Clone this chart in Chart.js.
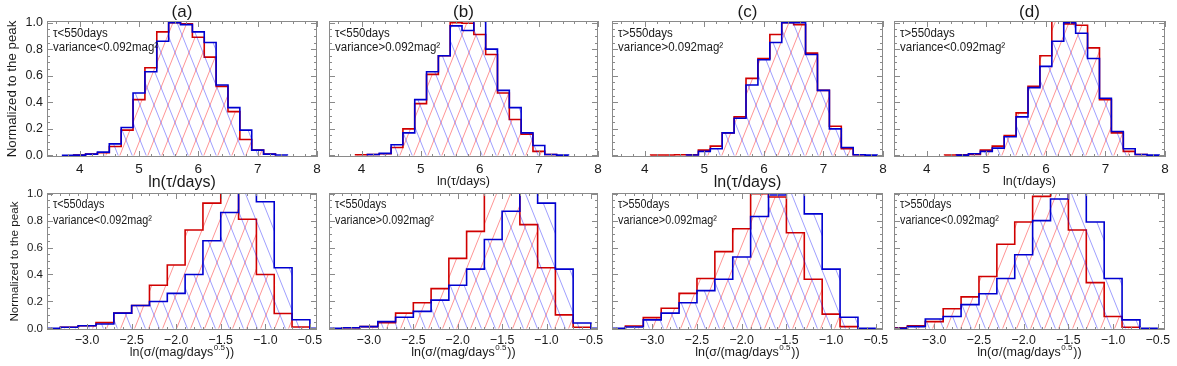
<!DOCTYPE html>
<html>
<head>
<meta charset="utf-8">
<title>Normalized histograms of tau and sigma</title>
<script src="https://cdn.jsdelivr.net/npm/chart.js"></script>
<style>
  body { margin: 0; background: #fff; }
  #wrap { position: relative; width: 1177px; height: 366px; }
  #wrap canvas { position: absolute; left: 0; top: 0; }
</style>
</head>
<body>
<div id="wrap"></div>
<script>
// bin centres (bin width 0.2)
const tauCenters = [3.8,4.0,4.2,4.4,4.6,4.8,5.0,5.2,5.4,5.6,5.8,6.0,6.2,6.4,6.6,6.8,7.0,7.2,7.4,7.6,7.8];
const sigmaCenters = [-3.4,-3.2,-3.0,-2.8,-2.6,-2.4,-2.2,-2.0,-1.8,-1.6,-1.4,-1.2,-1.0,-0.8,-0.6,-0.4];

// top row: ln(tau/days)
const aTauRed  = [null,0.003,0.01,0.02,0.067,0.19,0.42,0.66,0.93,1.0,0.99,0.89,0.74,0.52,0.33,0.12,0.04,0.01,null,null,null];
const aTauBlue = [0.0,0.002,0.01,0.025,0.087,0.21,0.47,0.63,0.86,1.0,0.985,0.93,0.85,0.53,0.36,0.19,0.04,0.01,0.003,null,null];
const bTauRed  = [null,0.005,0.007,0.012,0.06,0.2,0.39,0.61,0.75,1.0,0.995,0.91,0.76,0.47,0.27,0.16,0.03,0.007,null,null,null];
const bTauBlue = [null,null,0.007,0.015,0.08,0.17,0.42,0.63,0.75,0.975,0.94,1.06,0.8,0.49,0.36,0.17,0.075,0.007,0.002,null,null];
const cTauRed  = [null,null,0.003,0.003,0.005,0.005,0.04,0.07,0.17,0.29,0.58,0.73,0.91,1.0,0.985,0.77,0.49,0.22,0.05,0.005,null];
const cTauBlue = [null,null,null,null,null,0.003,0.03,0.05,0.17,0.28,0.53,0.72,0.85,1.0,1.0,0.76,0.49,0.2,0.06,0.005,0.002];
const dTauRed  = [null,null,null,0.003,0.005,0.008,0.04,0.07,0.15,0.32,0.52,0.75,1.06,0.99,0.98,0.81,0.42,0.17,0.03,0.007,null];
const dTauBlue = [null,null,null,null,0.002,0.012,0.03,0.055,0.14,0.29,0.51,0.67,0.86,1.0,0.92,0.73,0.43,0.18,0.05,0.007,0.002];

// bottom row: ln(sigma/(mag/days^0.5))
const aSigRed  = [null,0.008,0.02,0.043,0.113,0.17,0.32,0.47,0.73,0.93,1.02,0.81,0.4,0.11,0.01,null];
const aSigBlue = [0,0.008,0.02,0.033,0.113,0.17,0.2,0.26,0.4,0.65,0.86,1.02,0.94,0.45,0.064,0];
const bSigRed  = [null,0.005,0.013,0.043,0.113,0.19,0.295,0.52,0.72,1.01,1.02,0.77,0.45,0.1,0.008,null];
const bSigBlue = [0,0.005,0.013,0.05,0.083,0.126,0.21,0.32,0.44,0.66,0.87,1.02,0.93,0.44,0.04,0];
const cSigRed  = [null,0.018,0.08,0.15,0.26,0.37,0.57,0.74,1.0,0.975,0.71,0.365,0.106,0.013,null,null];
const cSigBlue = [0,0.01,0.063,0.113,0.19,0.28,0.365,0.53,0.83,0.99,1.02,0.85,0.44,0.083,0,null];
const dSigRed  = [0.005,0.02,0.05,0.146,0.234,0.385,0.625,0.79,0.98,1.02,0.73,0.34,0.088,0.008,null,null];
const dSigBlue = [0,0.013,0.07,0.088,0.176,0.257,0.37,0.547,0.8,0.96,1.02,0.79,0.37,0.063,0,null];

// labels
const panelTitles = ['(a)','(b)','(c)','(d)'];
const tauLines = ['\u03c4<550days','\u03c4<550days','\u03c4>550days','\u03c4>550days'];
const varLines = ['variance<0.092mag\u00b2','variance>0.092mag\u00b2','variance>0.092mag\u00b2','variance<0.092mag\u00b2'];
const tauTicks = [4,5,6,7,8];
const sigmaTicks = [-3.0,-2.5,-2.0,-1.5,-1.0,-0.5];
const yTicks = [0,0.2,0.4,0.6,0.8,1.0];

const W = 1177, H = 366;
const FONT = "'Liberation Sans', Arial, sans-serif";
const INK = '#1a1a1a';
const FRAME = '#8a8a8a';
const panelLeft = [47, 329, 612, 894];
const panelRight = [317, 598, 883, 1165];

function histPoints(centers, vals, w) {
  let first = -1, last = -1;
  vals.forEach((v, i) => { if (v !== null) { if (first < 0) first = i; last = i; } });
  const pts = [{x: centers[first] - w/2, y: 0}];
  for (let i = first; i <= last; i++) pts.push({x: centers[i] - w/2, y: vals[i]});
  pts.push({x: centers[last] + w/2, y: vals[last]});
  pts.push({x: centers[last] + w/2, y: 0});
  return pts;
}

function hatch(ctx, color, dir) {
  const tw = 14, th = 35;
  const c = document.createElement('canvas');
  c.width = tw; c.height = th;
  const g = c.getContext('2d');
  g.strokeStyle = color; g.lineWidth = 1;
  for (let k = -1; k <= 1; k++) {
    g.beginPath();
    if (dir > 0) { g.moveTo(k*tw, th); g.lineTo((k+1)*tw, 0); }
    else { g.moveTo(k*tw, 0); g.lineTo((k+1)*tw, th); }
    g.stroke();
  }
  return ctx.createPattern(c, 'repeat');
}

function steps(min, max, step) {
  const out = [];
  for (let i = Math.ceil(min/step - 1e-6); i*step <= max + 1e-6; i++) out.push(+(i*step).toFixed(3));
  return out;
}
function isMult(v, s) { return Math.abs(v/s - Math.round(v/s)) < 1e-6; }

function txt(ctx, s, x, y, size, align, k) {
  ctx.save();
  ctx.font = size + 'px ' + FONT;
  ctx.fillStyle = INK;
  ctx.textBaseline = 'middle';
  ctx.textAlign = align || 'left';
  ctx.translate(x, y);
  ctx.scale(k || 1, 1);
  ctx.fillText(s, 0, 0);
  ctx.restore();
}

function sigmaTitle(ctx, cx, y) {
  const a = 'ln(\u03c3/(mag/days', b = '0.5', c = '))';
  ctx.save();
  ctx.fillStyle = INK;
  ctx.textBaseline = 'middle';
  ctx.textAlign = 'left';
  ctx.font = '12.5px ' + FONT;
  const wa = ctx.measureText(a).width, wc = ctx.measureText(c).width;
  ctx.font = '8px ' + FONT;
  const wb = ctx.measureText(b).width;
  let x = cx - (wa + wb + wc + 1.5) / 2;
  ctx.font = '12.5px ' + FONT; ctx.fillText(a, x, y); x += wa + 0.5;
  ctx.font = '8px ' + FONT; ctx.fillText(b, x, y - 5); x += wb + 1;
  ctx.font = '12.5px ' + FONT; ctx.fillText(c, x, y);
  ctx.restore();
}

function framePlugin(col, row) {
  return {
    id: 'frame' + col + row,
    afterDraw(chart) {
      const ctx = chart.ctx, a = chart.chartArea, xs = chart.scales.x, ys = chart.scales.y;
      ctx.save();
      ctx.strokeStyle = FRAME; ctx.lineWidth = 1;
      ctx.strokeRect(a.left + 0.5, a.top + 0.5, a.right - a.left - 1, a.bottom - a.top - 1);
      const xMajor = row === 0 ? 1 : 0.5, xMinor = row === 0 ? 0.2 : 0.1;
      ctx.beginPath();
      steps(xs.min, xs.max, xMinor).forEach(v => {
        const len = isMult(v, xMajor) ? 6 : 3;
        const px = Math.round(xs.getPixelForValue(v)) + 0.5;
        ctx.moveTo(px, a.bottom); ctx.lineTo(px, a.bottom - len);
        ctx.moveTo(px, a.top); ctx.lineTo(px, a.top + len);
      });
      steps(0, 1, 0.05).forEach(v => {
        const len = isMult(v, 0.2) ? 6 : 3;
        const py = Math.round(ys.getPixelForValue(v)) + 0.5;
        ctx.moveTo(a.left, py); ctx.lineTo(a.left + len, py);
        ctx.moveTo(a.right, py); ctx.lineTo(a.right - len, py);
      });
      ctx.stroke();
      ctx.restore();

      const cx = (a.left + a.right) / 2;
      if (row === 0) {
        tauTicks.forEach(v => txt(ctx, String(v), xs.getPixelForValue(v), 169.5, 13.5, 'center'));
        const big = col % 2 === 0;
        txt(ctx, 'ln(\u03c4/days)', cx, big ? 183 : 181.5, big ? 16 : 12.5, 'center');
        txt(ctx, panelTitles[col], cx, 12, 17, 'center');
        txt(ctx, tauLines[col], a.left + 6, 34, 12.5, 'left', 0.92);
        txt(ctx, varLines[col], a.left + 6, 48, 12.5, 'left', 0.92);
      } else {
        sigmaTicks.forEach(v => txt(ctx, v.toFixed(1).replace('-', '\u2212'), xs.getPixelForValue(v), 340, 13, 'center', 0.95));
        sigmaTitle(ctx, cx, 353);
        txt(ctx, tauLines[col], a.left + 6, 205, 12, 'left', 0.9);
        txt(ctx, varLines[col], a.left + 6, 221, 12, 'left', 0.9);
      }
      if (col === 0) {
        const size = row === 0 ? 12.5 : 11.5;
        yTicks.forEach(v => txt(ctx, v.toFixed(1), a.left - 4, ys.getPixelForValue(v), size, 'right'));
        ctx.save();
        ctx.translate(row === 0 ? 12 : 15, (a.top + a.bottom) / 2);
        ctx.rotate(-Math.PI / 2);
        txt(ctx, 'Normalized to the peak', 0, 0, row === 0 ? 13.3 : 11.7, 'center');
        ctx.restore();
      }
    }
  };
}

function makePanel(col, row, red, blue) {
  const cv = document.createElement('canvas');
  cv.width = W; cv.height = H;
  document.getElementById('wrap').appendChild(cv);
  const ctx = cv.getContext('2d');
  const top = row === 0;
  const centers = top ? tauCenters : sigmaCenters;
  const area = {l: panelLeft[col], r: panelRight[col], t: top ? 21 : 193, b: top ? 157 : 330};
  new Chart(cv, {
    type: 'line',
    data: {
      // lower order is drawn on top: blue over red
      datasets: [
        {data: histPoints(centers, red, 0.2), borderColor: '#d00000', backgroundColor: hatch(ctx, 'rgba(255,0,0,0.42)', 1),
         fill: 'origin', stepped: true, borderWidth: 1.6, pointRadius: 0, order: 2},
        {data: histPoints(centers, blue, 0.2), borderColor: '#0000d0', backgroundColor: hatch(ctx, 'rgba(0,0,255,0.38)', -1),
         fill: 'origin', stepped: true, borderWidth: 1.6, pointRadius: 0, order: 1}
      ]
    },
    options: {
      responsive: false,
      animation: false,
      devicePixelRatio: 1,
      events: [],
      layout: {padding: {left: area.l, top: area.t, right: W - area.r, bottom: H - area.b}},
      scales: {
        x: {type: 'linear', min: top ? 3.45 : -3.45, max: top ? 8.0 : -0.42, display: false},
        y: {type: 'linear', min: -0.012, max: top ? 1.012 : 1.005, display: false}
      },
      plugins: {legend: {display: false}, tooltip: {enabled: false}}
    },
    plugins: [framePlugin(col, row)]
  });
}

makePanel(0, 0, aTauRed, aTauBlue);
makePanel(1, 0, bTauRed, bTauBlue);
makePanel(2, 0, cTauRed, cTauBlue);
makePanel(3, 0, dTauRed, dTauBlue);
makePanel(0, 1, aSigRed, aSigBlue);
makePanel(1, 1, bSigRed, bSigBlue);
makePanel(2, 1, cSigRed, cSigBlue);
makePanel(3, 1, dSigRed, dSigBlue);
</script>
</body>
</html>
